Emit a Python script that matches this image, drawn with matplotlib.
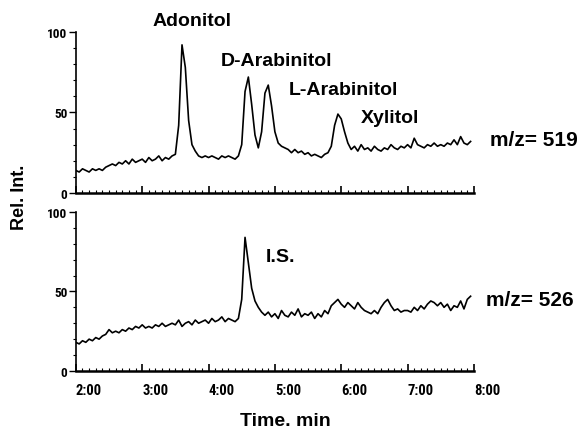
import numpy as np
import matplotlib.pyplot as plt
from matplotlib.ticker import MultipleLocator
from matplotlib import font_manager

# Data (one value every 0.05 min from 2:00)
time_min = np.round(np.arange(2.0, 7.951, 0.05), 2)

int_519 = [
    14, 13, 15, 14, 13, 15, 14, 15, 14, 16,
    17, 18, 17, 19, 18, 20, 18, 21, 19, 20,
    21, 19, 22, 20, 21, 23, 20, 22, 21, 23,
    24, 42, 92, 78, 45, 30, 26, 23, 22, 23,
    22, 23, 22, 21, 23, 22, 23, 22, 21, 23,
    30, 63, 72, 55, 36, 28, 38, 62, 67, 54,
    38, 31, 29, 28, 27, 25, 27, 25, 26, 24,
    25, 23, 24, 23, 22, 24, 25, 29, 42, 49,
    46, 38, 31, 27, 29, 26, 30, 27, 28, 26,
    29, 27, 26, 28, 27, 30, 28, 27, 29, 28,
    30, 28, 34, 30, 29, 28, 30, 29, 31, 29,
    30, 29, 31, 30, 33, 30, 35, 31, 30, 32,
]

int_526 = [
    18, 17, 19, 18, 20, 19, 21, 20, 22, 23,
    26, 24, 25, 24, 26, 25, 27, 26, 28, 27,
    29, 27, 28, 27, 29, 28, 30, 28, 29, 30,
    29, 32, 28, 30, 31, 29, 32, 30, 31, 32,
    30, 33, 31, 32, 34, 31, 33, 32, 31, 33,
    45, 84, 68, 52, 44, 40, 37, 35, 37, 34,
    36, 33, 38, 35, 34, 37, 35, 39, 34, 36,
    35, 37, 33, 36, 34, 38, 36, 41, 43, 45,
    42, 40, 43, 41, 39, 43, 40, 38, 37, 36,
    38, 36, 40, 43, 45, 41, 38, 39, 37, 38,
    38, 37, 40, 38, 41, 39, 42, 44, 43, 41,
    43, 40, 42, 38, 41, 40, 44, 39, 45, 47,
]

x_ticks = [2, 3, 4, 5, 6, 7, 8]
x_labels = ["2:00", "3:00", "4:00", "5:00", "6:00", "7:00", "8:00"]
y_ticks = [0, 50, 100]

peak_names = ["Adonitol", "D-Arabinitol", "L-Arabinitol", "Xylitol"]
peak_pos = [(3.75, 107), (5.02, 82), (6.03, 64.5), (6.73, 47)]

# narrow font for the tick numbers if one is around
names = {f.name for f in font_manager.fontManager.ttflist}
narrow = "DejaVu Sans Mono"
for cand in ["Liberation Sans Narrow", "DejaVu Sans Condensed", "Roboto Condensed"]:
    if cand in names:
        narrow = cand
        break

label_font = dict(family=["Liberation Sans", "DejaVu Sans"], fontweight="bold", fontsize=14)
if narrow == "DejaVu Sans Mono":
    tick_font = dict(family=narrow, fontweight="bold", fontsize=8)
    ytick_font = tick_font
else:
    tick_font = dict(family=narrow, fontweight="bold", fontsize=10.5)
    ytick_font = dict(tick_font, fontsize=9.5)

fig = plt.figure(figsize=(5.88, 4.31), dpi=100)
ax1 = fig.add_axes([0.129, 0.550, 0.677, 0.3735])
ax2 = fig.add_axes([0.129, 0.137, 0.677, 0.369])

for ax, y in [(ax1, int_519), (ax2, int_526)]:
    ax.plot(time_min, y, color="black", lw=1.2)
    ax.set_xlim(2, 8)
    ax.set_ylim(0, 100)
    ax.spines["top"].set_visible(False)
    ax.spines["right"].set_visible(False)
    ax.spines["left"].set_linewidth(1.2)
    ax.spines["bottom"].set_linewidth(1.8)
    ax.set_xticks(x_ticks)
    ax.xaxis.set_minor_locator(MultipleLocator(0.1))
    ax.set_yticks(y_ticks)
    ax.set_yticklabels([str(v) for v in y_ticks], **ytick_font)
    ax.yaxis.set_minor_locator(MultipleLocator(10))
    ax.tick_params(axis="x", which="major", direction="in", length=5, width=1.2)
    ax.tick_params(axis="x", which="minor", direction="in", length=2, width=0.8)
    ax.tick_params(axis="y", which="major", direction="out", length=5, width=1.0, pad=1)
    ax.tick_params(axis="y", which="minor", direction="out", length=2, width=0.8)
    ax.set_facecolor("none")

ax1.set_xticklabels([])
ax2.set_xticklabels(x_labels, ha="left", **tick_font)
ax2.tick_params(axis="x", which="major", pad=9)

for name, (px, py) in zip(peak_names, peak_pos):
    ax1.text(px, py, name, ha="center", va="center", clip_on=False, **label_font)

ax2.text(5.08, 72, "I.S.", ha="center", va="center", **label_font)

mz_font = dict(label_font, fontsize=15)
ax1.text(8.24, 33, "m/z= 519", ha="left", va="center", clip_on=False, **mz_font)
ax2.text(8.18, 45, "m/z= 526", ha="left", va="center", clip_on=False, **mz_font)

fig.text(20 / 588, 1 - 197 / 431, "Rel. Int.", rotation=90, ha="center", va="center",
         **dict(label_font, fontsize=13))
fig.text(285 / 588, 1 - 422 / 431, "Time. min", ha="center", va="center", **label_font)

fig.savefig("out.png", dpi=100)
